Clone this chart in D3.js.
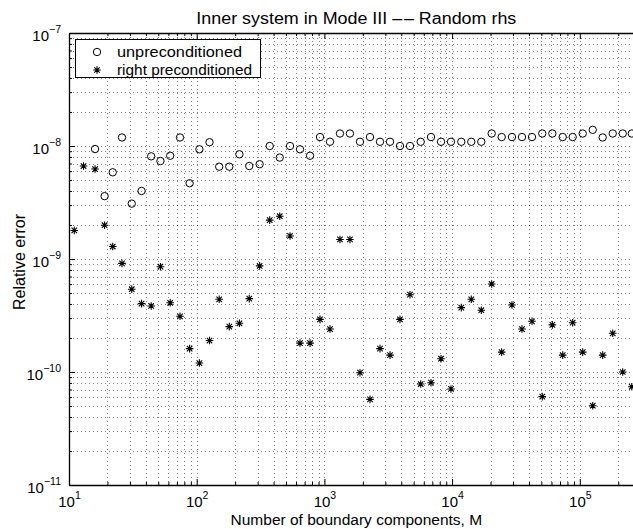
<!DOCTYPE html>
<html><head><meta charset="utf-8">
<script src="https://cdn.jsdelivr.net/npm/d3@7"></script>
<style>
html,body{margin:0;padding:0;background:#fff;overflow:hidden}
svg text{font-family:"Liberation Sans",Arial,Helvetica,sans-serif;fill:#000}
</style></head>
<body>
<svg id="chart" width="633" height="529"></svg>
<script>
// ---- data ----
const M = [11,13,16,19,22,26,31,37,44,52,62,74,88,105,126,150,180,216,258,311,373,447,538,644,772,924,
  1106,1324,1585,1900,2276,2725,3265,3908,4680,5675,6835,8190,9800,11800,14130,16930,20420,24450,29430,
  35250,42250,50830,60950,73490,87940,105400,126300,151100,181100,216800,255300];
const unprec = [null,null,9.4e-9,3.6e-9,5.85e-9,1.19e-8,3.09e-9,4.0e-9,8.1e-9,7.36e-9,8.2e-9,1.19e-8,4.68e-9,
  9.35e-9,1.08e-8,6.56e-9,6.56e-9,8.45e-9,6.65e-9,6.9e-9,1.0e-8,7.9e-9,1.0e-8,9.35e-9,8.2e-9,1.2e-8,
  1.09e-8,1.29e-8,1.29e-8,1.09e-8,1.2e-8,1.09e-8,1.09e-8,1.0e-8,1.0e-8,1.09e-8,1.2e-8,1.09e-8,1.09e-8,
  1.09e-8,1.09e-8,1.09e-8,1.29e-8,1.2e-8,1.2e-8,1.2e-8,1.2e-8,1.29e-8,1.29e-8,1.2e-8,1.2e-8,1.29e-8,
  1.39e-8,1.19e-8,1.29e-8,1.29e-8,1.29e-8];
const rightPrec = [1.79e-9,6.65e-9,6.25e-9,1.99e-9,1.29e-9,9.15e-10,5.4e-10,4.03e-10,3.84e-10,8.55e-10,
  4.1e-10,3.11e-10,1.61e-10,1.2e-10,1.9e-10,4.4e-10,2.52e-10,2.7e-10,4.46e-10,8.7e-10,2.21e-9,2.39e-9,
  1.6e-9,1.8e-10,1.8e-10,2.92e-10,2.4e-10,1.49e-9,1.49e-9,9.86e-11,5.73e-11,1.61e-10,1.41e-10,2.92e-10,
  4.83e-10,7.83e-11,8.04e-11,1.31e-10,7.08e-11,3.71e-10,4.4e-10,3.52e-10,6.01e-10,1.5e-10,3.92e-10,
  2.4e-10,2.81e-10,6.05e-11,2.61e-10,1.41e-10,2.73e-10,1.5e-10,5.03e-11,1.41e-10,2.2e-10,1.0e-10,7.4e-11];
const xTickVals = [1e1,1e2,1e3,1e4,1e5];
const xTickExp = ["1","2","3","4","5"];
const yTickVals = [1e-11,1e-10,1e-9,1e-8,1e-7];
const yTickExp = ["−11","−10","−9","−8","−7"];
const titleParts = ["Inner system in Mode III \u2013","\u2013 Random rhs"];
const xLabelText = "Number of boundary components, M";
const yLabelText = "Relative error";
const legendLabels = ["unpreconditioned","right preconditioned"];

// ---- layout ----
const svg = d3.select("#chart");
const L = 69, T = 33, B = 485;
const x = d3.scaleLog().domain([10, Math.pow(10,5.5)]).range([L, L + 127.7*4.5]);
const y = d3.scaleLog().domain([1e-11, 1e-7]).range([B, T]);
const R = x.range()[1];

// minor values
const xMinor = [], yMinor = [];
for (let e = 1; e <= 5; e++) for (let k = 1; k <= 9; k++) { const v = k*Math.pow(10,e); if (v <= x.domain()[1]) xMinor.push(v); }
for (let e = -11; e <= -8; e++) for (let k = 1; k <= 9; k++) yMinor.push(k*Math.pow(10,e));
yMinor.push(1e-7);

// grid
const grid = svg.append("g").attr("stroke","#000").attr("stroke-width",0.5).attr("stroke-dasharray","1,3");
grid.selectAll("line.gx").data(xMinor.filter(v=>v>10)).enter().append("line")
  .attr("x1",d=>Math.round(x(d))+0.5).attr("x2",d=>Math.round(x(d))+0.5).attr("y1",T).attr("y2",B);
grid.selectAll("line.gy").data(yMinor.filter(v=>v>1e-11 && v<1e-7)).enter().append("line")
  .attr("y1",d=>Math.round(y(d))+0.5).attr("y2",d=>Math.round(y(d))+0.5).attr("x1",L).attr("x2",R);

// axes
function styleAxis(g){ g.select(".domain").attr("stroke","#000").attr("stroke-width",1.3); g.selectAll(".tick line").attr("stroke","#000"); }
const xMajorSet = new Set(xTickVals);
const yMajorSet = new Set(yTickVals);
const gxb = svg.append("g").attr("transform",`translate(0,${B})`).call(d3.axisBottom(x).tickValues(xMinor).tickSizeInner(-3).tickSizeOuter(0).tickFormat("")).call(styleAxis);
gxb.selectAll(".tick line").attr("y2",d=>xMajorSet.has(d)?-6:-3);
const gxt = svg.append("g").attr("transform",`translate(0,${T})`).call(d3.axisTop(x).tickValues(xMinor).tickSizeInner(-3).tickSizeOuter(0).tickFormat("")).call(styleAxis);
gxt.selectAll(".tick line").attr("y2",d=>xMajorSet.has(d)?6:3);
const gyl = svg.append("g").attr("transform",`translate(${L},0)`).call(d3.axisLeft(y).tickValues(yMinor).tickSizeInner(-3).tickSizeOuter(0).tickFormat("")).call(styleAxis);
gyl.selectAll(".tick line").attr("x2",d=>yMajorSet.has(d)?6:3);
svg.append("g").attr("transform",`translate(${R},0)`).call(d3.axisRight(y).tickValues(yMinor).tickSizeInner(-3).tickSizeOuter(0).tickFormat("")).call(styleAxis);

// tick labels via axes
const gxl = svg.append("g").attr("transform",`translate(0,${B})`)
  .call(d3.axisBottom(x).tickValues(xTickVals).tickSize(0).tickPadding(0).tickFormat(""));
gxl.select(".domain").remove();
gxl.selectAll(".tick").each(function(d,i){
  const t = d3.select(this).append("text").attr("y",22).attr("text-anchor","middle").style("font-size","15px");
  t.append("tspan").text("10");
  t.append("tspan").attr("dy",-8).style("font-size","10.5px").text(xTickExp[i]);
});
const gyt = svg.append("g").attr("transform",`translate(${L},0)`)
  .call(d3.axisLeft(y).tickValues(yTickVals).tickSize(0).tickPadding(0).tickFormat(""));
gyt.select(".domain").remove();
gyt.selectAll(".tick").each(function(d,i){
  const t = d3.select(this).append("text").attr("x",-8).attr("y",7).attr("text-anchor","end").style("font-size","15px");
  t.append("tspan").text("10");
  t.append("tspan").attr("dy",-8).style("font-size","10.5px").text(yTickExp[i]);
});

// markers
const pts = svg.append("g");
pts.selectAll("circle").data(M.map((m,i)=>[m,unprec[i]]).filter(d=>d[1]!=null)).enter().append("circle")
  .attr("cx",d=>x(d[0])).attr("cy",d=>y(d[1])).attr("r",3.7).attr("fill","none").attr("stroke","#000").attr("stroke-width",1);
function star(sel,s){ const a=s*0.72;
  sel.append("path").attr("d",`M${-s},0H${s}M0,${-s}V${s}M${-a},${-a}L${a},${a}M${-a},${a}L${a},${-a}`)
    .attr("stroke","#000").attr("stroke-width",1.1).attr("fill","none"); }
pts.selectAll("g.star").data(M.map((m,i)=>[m,rightPrec[i]])).enter().append("g")
  .attr("transform",d=>`translate(${x(d[0])},${y(d[1])})`).each(function(){ star(d3.select(this),3.8); });

// legend
const lg = svg.append("g");
lg.append("rect").attr("x",75.5).attr("y",39.5).attr("width",185).attr("height",38).attr("fill","#fff").attr("stroke","#000").attr("stroke-width",1);
lg.append("circle").attr("cx",97).attr("cy",52).attr("r",3.7).attr("fill","none").attr("stroke","#000");
lg.append("g").attr("transform","translate(97,70)").call(g=>star(g,3.8));
lg.append("text").attr("x",117).attr("y",57).attr("textLength",125).attr("lengthAdjust","spacingAndGlyphs").style("font-size","15px").text(legendLabels[0]);
lg.append("text").attr("x",117).attr("y",75).attr("textLength",135).attr("lengthAdjust","spacingAndGlyphs").style("font-size","15px").text(legendLabels[1]);

// title and labels
const tt = svg.append("text").attr("x",(L+R)/2).attr("y",24).attr("text-anchor","middle").attr("textLength",320).attr("lengthAdjust","spacingAndGlyphs").style("font-size","16px");
tt.append("tspan").text(titleParts[0]);
tt.append("tspan").attr("dx",1.5).text(titleParts[1]);
svg.append("text").attr("x",(L+R)/2).attr("y",525).attr("text-anchor","middle").style("font-size","15.5px").text(xLabelText);
svg.append("text").attr("transform","translate(25,262) rotate(-90)").attr("text-anchor","middle").style("font-size","16px").text(yLabelText);
</script>
</body></html>
